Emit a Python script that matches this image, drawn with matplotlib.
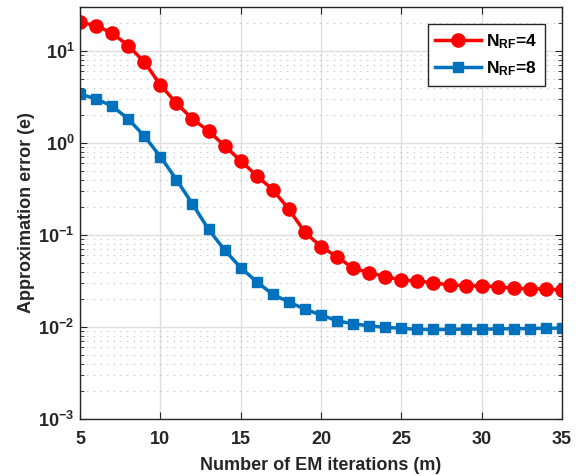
import matplotlib
matplotlib.use("Agg")
import matplotlib.pyplot as plt
import numpy as np
from matplotlib.ticker import LogLocator, NullFormatter

plt.rcParams['font.family'] = ['Liberation Sans', 'DejaVu Sans']
plt.rcParams['font.weight'] = 'bold'
plt.rcParams['mathtext.fontset'] = 'custom'
plt.rcParams['mathtext.rm'] = 'Liberation Sans:bold'
plt.rcParams['mathtext.bf'] = 'Liberation Sans:bold'
plt.rcParams['mathtext.it'] = 'Liberation Sans:bold'

iterations = list(range(5, 36))
err_nrf4 = [20.5, 18.8, 15.6, 11.4, 7.6, 4.27, 2.70, 1.82, 1.35, 0.93, 0.64, 0.44,
            0.31, 0.19, 0.107, 0.0746, 0.058, 0.0434, 0.0389, 0.0352, 0.0324, 0.0316,
            0.0301, 0.0286, 0.0281, 0.0279, 0.0274, 0.0263, 0.0259, 0.0259, 0.0252]
err_nrf8 = [3.41, 3.0, 2.52, 1.82, 1.19, 0.71, 0.40, 0.217, 0.115, 0.0687, 0.0441,
            0.031, 0.0226, 0.0187, 0.0156, 0.0135, 0.0117, 0.0108, 0.0103, 0.0099,
            0.0097, 0.0094, 0.0094, 0.0094, 0.0095, 0.0095, 0.0095, 0.0096, 0.0096,
            0.0097, 0.0097]
labels = [r'$\mathregular{N_{RF}}$=4', r'$\mathregular{N_{RF}}$=8']
xticks = [5, 10, 15, 20, 25, 30, 35]
ytick_vals = [1e-3, 1e-2, 1e-1, 1e0, 1e1]
ytick_labels = [r'$\mathregular{10^{-3}}$', r'$\mathregular{10^{-2}}$', r'$\mathregular{10^{-1}}$',
                r'$\mathregular{10^{0}}$', r'$\mathregular{10^{1}}$']

fig = plt.figure(figsize=(5.82, 4.76), dpi=100)
ax = fig.add_axes([80/582, 1-419/476, (562-80)/582, (419-7)/476])

ax.semilogy(iterations, err_nrf4, '-o', color='#FF0000', lw=2.5, ms=9.5, label=labels[0])
ax.semilogy(iterations, err_nrf8, '-s', color='#0072BD', lw=2.5, ms=7.5, label=labels[1])

ax.set_xlim(5, 35)
ax.set_ylim(1e-3, 30)
ax.set_xticks(xticks)
ax.set_yticks(ytick_vals)
ax.set_yticklabels(ytick_labels)
ax.yaxis.set_minor_locator(LogLocator(base=10, subs=np.arange(2, 10)))
ax.yaxis.set_minor_formatter(NullFormatter())

ax.grid(True, which='major', color='#DFDFDF', lw=1.0, ls='-')
ax.grid(True, which='minor', axis='y', color='#BEBEBE', lw=0.8, ls=(0, (1, 5)))
ax.set_axisbelow(True)

ax.tick_params(which='both', direction='in', top=True, right=True, labelsize=13, colors='#262626')
ax.tick_params(which='major', length=5)
ax.tick_params(which='minor', length=3)
ax.tick_params(axis='x', which='major', pad=9)
ax.tick_params(axis='y', which='major', pad=4)
for s in ax.spines.values():
    s.set_color('#262626')
    s.set_linewidth(1.0)

ax.set_xlabel('Number of EM iterations (m)', fontsize=13, fontweight='bold', color='#262626', labelpad=6)
ax.set_ylabel('Approximation error (e)', fontsize=13, fontweight='bold', color='#262626', labelpad=2)

leg = ax.legend(loc='upper right', fontsize=12.5, fancybox=False, framealpha=1,
                edgecolor='#262626', handlelength=2.6, handletextpad=0.3,
                borderaxespad=1.0, borderpad=0.45)
leg.get_frame().set_linewidth(1.0)

fig.savefig('out.png', dpi=100)
